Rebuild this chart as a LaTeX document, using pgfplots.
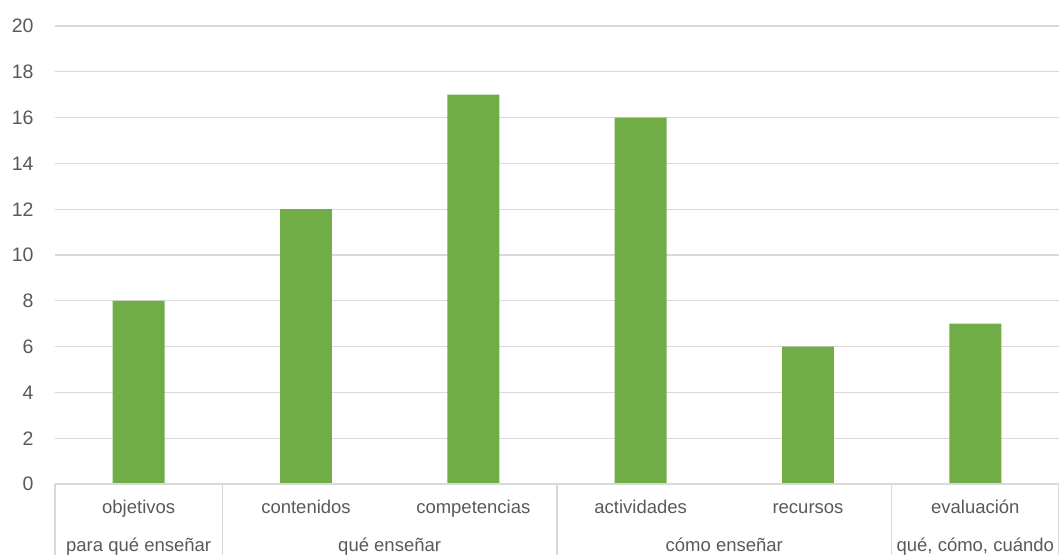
\documentclass[border=0pt]{standalone}
\usepackage{pgfplots}
\pgfplotsset{compat=1.18}
\usepackage{fontspec}
\setmainfont{Liberation Sans}
\definecolor{bargreen}{HTML}{70AD47}
\definecolor{gridgray}{HTML}{D9D9D9}
\definecolor{textgray}{HTML}{595959}
\begin{document}
\begin{tikzpicture}[x=1pt,y=1pt]
\useasboundingbox (0,0) rectangle (1059,555);
\begin{axis}[
  at={(55pt,71pt)}, anchor=south west,
  scale only axis, width=1004pt, height=458pt,
  xmin=-0.5, xmax=5.5, ymin=0, ymax=20,
  ytick={0,2,...,20},
  xtick=\empty,
  ymajorgrids, grid style={gridgray, line width=1.2pt},
  axis line style={draw=none},
  major tick length=0pt,
  yticklabel style={font=\fontsize{19.5}{21}\selectfont, text=textgray, xshift=-18pt},
  /pgf/number format/assume math mode=true,
  clip=false,
]
\addplot[ybar, bar width=0.31, fill=bargreen, draw=none]
  coordinates {(0,8) (1,12) (2,17) (3,16) (4,6) (5,7)};
\draw[gridgray, line width=1.2pt] (axis cs:-0.5,0) -- (axis cs:5.5,0);
\pgfplotsinvokeforeach{-0.5,0.5,2.5,4.5,5.5}{
  \draw[gridgray, line width=1.2pt] (axis cs:#1,0) -- ([yshift=-71pt]axis cs:#1,0);
}
\begin{scope}[every node/.style={font=\fontsize{18.5}{20}\selectfont, text=textgray, anchor=base, inner sep=0pt}]
\node at ([yshift=-29pt]axis cs:0,0) {objetivos};
\node at ([yshift=-29pt]axis cs:1,0) {contenidos};
\node at ([yshift=-29pt]axis cs:2,0) {competencias};
\node at ([yshift=-29pt]axis cs:3,0) {actividades};
\node at ([yshift=-29pt]axis cs:4,0) {recursos};
\node at ([yshift=-29pt]axis cs:5,0) {evaluación};
\node at ([yshift=-67pt]axis cs:0,0) {para qué enseñar};
\node at ([yshift=-67pt]axis cs:1.5,0) {qué enseñar};
\node at ([yshift=-67pt]axis cs:3.5,0) {cómo enseñar};
\node at ([yshift=-67pt]axis cs:5,0) {qué, cómo, cuándo};
\end{scope}
\end{axis}
\end{tikzpicture}
\end{document}
